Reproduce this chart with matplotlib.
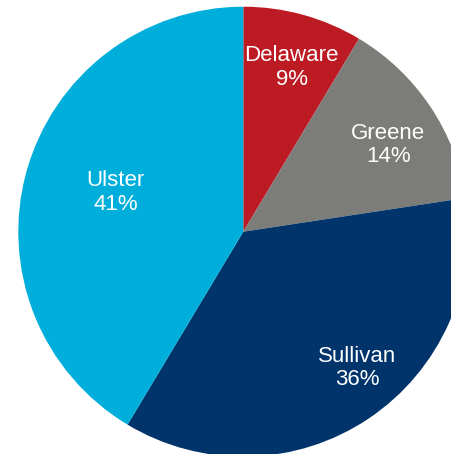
import numpy as np
import matplotlib
matplotlib.use("Agg")
import matplotlib.pyplot as plt

# county shares (clockwise from 12 o'clock)
counties = ["Delaware", "Greene", "Sullivan", "Ulster"]
shares = [8.6, 14.0, 36.0, 41.4]
pct_labels = ["9%", "14%", "36%", "41%"]
colors = ["#BD1B24", "#7C7C78", "#00346A", "#00AEDB"]

# label anchors in pie-radius units: (distance, angle in degrees)
label_pos = [(0.761, 73.6), (0.75, 30.9), (0.791, -50.1), (0.594, 163.0)]

plt.rcParams['font.family'] = ['Liberation Sans', 'DejaVu Sans']

fig = plt.figure(figsize=(4.52, 4.54), dpi=100)
ax = fig.add_axes([0, 0, 1, 1])

ax.pie(shares, colors=colors, startangle=90, counterclock=False,
       radius=1, center=(0, 0), wedgeprops=dict(linewidth=0))

for name, pct, (r, ang) in zip(counties, pct_labels, label_pos):
    a = np.deg2rad(ang)
    ax.text(r*np.cos(a), r*np.sin(a), name + "\n" + pct, color="white",
            fontsize=16, ha="center", va="center", linespacing=1.15)

# pie centre sits at (243, 232) px, radius 225 px; the right and bottom are clipped
ax.set_xlim(-243.3/225, (452-243.3)/225)
ax.set_ylim(-(454-231.7)/225, 231.7/225)
ax.set_aspect("equal")
ax.axis("off")

fig.savefig("out.png", dpi=100)
